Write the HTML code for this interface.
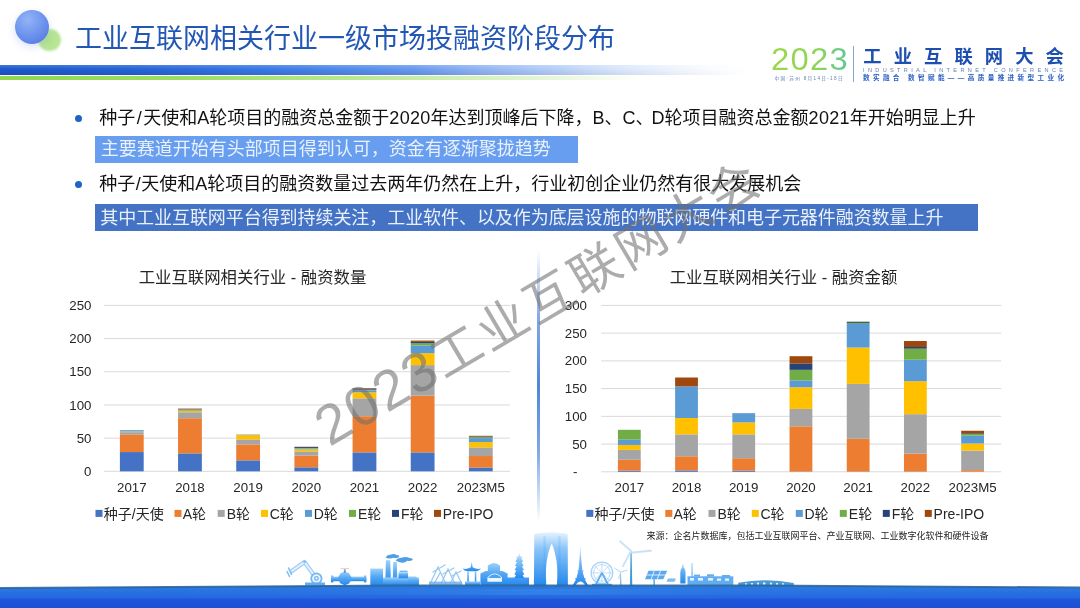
<!DOCTYPE html>
<html lang="zh-CN">
<head>
<meta charset="utf-8">
<title>工业互联网相关行业一级市场投融资阶段分布</title>
<style>
*{margin:0;padding:0;box-sizing:border-box}
html,body{width:1080px;height:608px;overflow:hidden;background:#fff}
body{position:relative;font-family:"Liberation Sans","Noto Sans CJK SC",sans-serif;color:#111}
.abs{position:absolute}
#title{left:75px;top:18.8px;font-size:27px;line-height:40px;color:#2257b6;white-space:nowrap}
#bar1{left:0;top:64.5px;width:750px;height:10.5px;background:linear-gradient(180deg,rgba(255,255,255,.18),rgba(255,255,255,0) 40%,rgba(0,0,40,.12)),linear-gradient(90deg,#1c58cc 0%,#2463d8 17%,#3a7ae6 36%,#6a9cf0 56%,#a6c4f6 76%,#dce8fc 93%,#eef4fe 100%);-webkit-mask-image:linear-gradient(90deg,#000 0%,#000 55%,rgba(0,0,0,.75) 75%,rgba(0,0,0,.3) 92%,transparent 100%);mask-image:linear-gradient(90deg,#000 0%,#000 55%,rgba(0,0,0,.75) 75%,rgba(0,0,0,.3) 92%,transparent 100%)}
#bar2{left:0;top:76.2px;width:640px;height:4.3px;background:linear-gradient(90deg,#8fd84f 0%,#9fdd66 30%,#b9e88f 55%,#dcf3c8 80%,rgba(255,255,255,0) 100%)}
.b{font-size:18px;line-height:26px;white-space:nowrap;color:#111}
.b i{font-style:normal;letter-spacing:.3px}
.b b{font-weight:normal;padding:0 .5px}
.hl{color:#e9f1fc;font-size:18px;line-height:26px;white-space:nowrap;padding-left:6px}
.dot{width:7px;height:7px;border-radius:50%;background:#1f62c8}
svg text{font-family:"Liberation Sans","Noto Sans CJK SC",sans-serif}
.ax{font-size:13.3px;fill:#262626}
.ct{font-size:16.4px;fill:#262626}
.lg{font-size:14px;fill:#262626}
#full{left:0;top:0}
</style>
</head>
<body>
<!-- header decoration -->
<div class="abs" style="left:38.4px;top:28.8px;width:22.4px;height:22.4px;border-radius:50%;background:radial-gradient(circle at 50% 50%,#b4e38c 0%,#b9e695 70%,#c6ecaa 100%);filter:blur(.8px)"></div>
<div class="abs" style="left:15px;top:10px;width:33.8px;height:33.8px;border-radius:50%;background:radial-gradient(circle at 38% 28%,#93b4f6 0%,#7196ee 45%,#5a7ee6 80%,#5576e0 100%);box-shadow:0 3px 9px rgba(120,150,230,.28);filter:blur(.4px)"></div>
<div id="title" class="abs">工业互联网相关行业一级市场投融资阶段分布</div>
<div id="bar1" class="abs"></div>
<div id="bar2" class="abs"></div>

<!-- logo -->
<div class="abs" id="logo" style="left:0;top:0;width:1080px;height:90px">
  <div class="abs" style="left:770.6px;top:40.6px;font-family:'Liberation Sans','Noto Sans CJK SC',sans-serif;font-weight:400;font-size:31.5px;line-height:36px;letter-spacing:1.2px;transform:scaleX(1.04);transform-origin:0 0;background:linear-gradient(90deg,#9bd84a,#8ed45a 60%,#5cc79a);-webkit-background-clip:text;background-clip:text;color:transparent">2023</div>
  <div class="abs" style="left:853px;top:46px;width:1px;height:36px;background:#8aa6cf"></div>
  <div class="abs" style="left:863.3px;top:45px;font-size:18.3px;line-height:24px;font-weight:bold;color:#1c4fb0;letter-spacing:12.1px;white-space:nowrap">工业互联网大会</div>
  <svg class="abs" style="left:0;top:0" width="1080" height="90" viewBox="0 0 1080 90">
    <text x="863" y="71.5" font-size="5.6" fill="#5f7fb5" textLength="200" lengthAdjust="spacing">INDUSTRIAL INTERNET CONFERENCE</text>
    <text x="863" y="80.3" font-size="6.6" font-weight="bold" fill="#2a5fc0" textLength="201" lengthAdjust="spacing">数实融合 数智赋能——高质量推进新型工业化</text>
    <text x="774.5" y="80" font-size="4.6" fill="#5f7fb5" textLength="68" lengthAdjust="spacing">中国·苏州 8月14日-18日</text>
  </svg>
</div>

<!-- bullets -->
<div class="abs dot" style="left:74.5px;top:115px"></div>
<div class="abs b" style="left:99.3px;top:105px">种子<b style="padding:0 1.5px">/</b>天使和A轮项目的融资总金额于<i>2020</i>年达到顶峰后下降，B、C<span style="margin-right:-2px">、</span>D轮项目融资总金额<i>2021</i>年开始明显上升</div>
<div class="abs hl" style="left:95.4px;top:136.4px;width:482.6px;height:26.6px;padding-left:5.4px;line-height:27.6px;background:#689ef0">主要赛道开始有头部项目得到认可，资金有逐渐聚拢趋势</div>
<div class="abs dot" style="left:74.5px;top:181px"></div>
<div class="abs b" style="left:99.3px;top:171px">种子<b>/</b>天使和A轮项目的融资数量过去两年仍然在上升，行业初创企业仍然有很大发展机会</div>
<div class="abs hl" style="left:95.4px;top:203.5px;width:882.6px;height:27px;padding-left:4.8px;line-height:28px;background:#4472c4;letter-spacing:-.06px">其中工业互联网平台得到持续关注，工业软件、以及作为底层设施的物联网硬件和电子元器件融资数量上升</div>

<!-- divider -->
<div class="abs" style="left:536.8px;top:250px;width:3px;height:272px;background:linear-gradient(180deg,rgba(90,140,220,0) 0%,rgba(90,140,220,.75) 25%,#4f86d8 50%,rgba(90,140,220,.75) 75%,rgba(90,140,220,0) 100%)"></div>

<svg id="full" class="abs" width="1080" height="608" viewBox="0 0 1080 608">
<g id="chartL">
<line x1="103.8" x2="509.9" y1="471.30" y2="471.30" stroke="#d9d9d9" stroke-width="1"/>
<text x="91.5" y="475.90" text-anchor="end" class="ax">0</text>
<line x1="103.8" x2="509.9" y1="438.12" y2="438.12" stroke="#d9d9d9" stroke-width="1"/>
<text x="91.5" y="442.72" text-anchor="end" class="ax">50</text>
<line x1="103.8" x2="509.9" y1="404.94" y2="404.94" stroke="#d9d9d9" stroke-width="1"/>
<text x="91.5" y="409.54" text-anchor="end" class="ax">100</text>
<line x1="103.8" x2="509.9" y1="371.76" y2="371.76" stroke="#d9d9d9" stroke-width="1"/>
<text x="91.5" y="376.36" text-anchor="end" class="ax">150</text>
<line x1="103.8" x2="509.9" y1="338.58" y2="338.58" stroke="#d9d9d9" stroke-width="1"/>
<text x="91.5" y="343.18" text-anchor="end" class="ax">200</text>
<line x1="103.8" x2="509.9" y1="305.40" y2="305.40" stroke="#d9d9d9" stroke-width="1"/>
<text x="91.5" y="310.00" text-anchor="end" class="ax">250</text>
<rect x="119.89" y="452.06" width="23.8" height="19.24" fill="#4472C4"/>
<rect x="119.89" y="434.80" width="23.8" height="17.25" fill="#ED7D31"/>
<rect x="119.89" y="432.15" width="23.8" height="2.65" fill="#A5A5A5"/>
<rect x="119.89" y="431.48" width="23.8" height="0.66" fill="#FFC000"/>
<rect x="119.89" y="430.16" width="23.8" height="1.33" fill="#5B9BD5"/>
<text x="131.79" y="491.9" text-anchor="middle" class="ax">2017</text>
<rect x="178.06" y="453.38" width="23.8" height="17.92" fill="#4472C4"/>
<rect x="178.06" y="418.21" width="23.8" height="35.17" fill="#ED7D31"/>
<rect x="178.06" y="412.24" width="23.8" height="5.97" fill="#A5A5A5"/>
<rect x="178.06" y="410.91" width="23.8" height="1.33" fill="#FFC000"/>
<rect x="178.06" y="410.25" width="23.8" height="0.66" fill="#5B9BD5"/>
<rect x="178.06" y="409.59" width="23.8" height="0.66" fill="#70AD47"/>
<rect x="178.06" y="409.25" width="23.8" height="0.33" fill="#264478"/>
<rect x="178.06" y="408.59" width="23.8" height="0.66" fill="#9E480E"/>
<text x="189.96" y="491.9" text-anchor="middle" class="ax">2018</text>
<rect x="236.23" y="460.35" width="23.8" height="10.95" fill="#4472C4"/>
<rect x="236.23" y="444.42" width="23.8" height="15.93" fill="#ED7D31"/>
<rect x="236.23" y="439.45" width="23.8" height="4.98" fill="#A5A5A5"/>
<rect x="236.23" y="435.13" width="23.8" height="4.31" fill="#FFC000"/>
<rect x="236.23" y="434.80" width="23.8" height="0.33" fill="#5B9BD5"/>
<rect x="236.23" y="434.60" width="23.8" height="0.20" fill="#9E480E"/>
<text x="248.13" y="491.9" text-anchor="middle" class="ax">2019</text>
<rect x="294.40" y="467.32" width="23.8" height="3.98" fill="#4472C4"/>
<rect x="294.40" y="455.71" width="23.8" height="11.61" fill="#ED7D31"/>
<rect x="294.40" y="451.39" width="23.8" height="4.31" fill="#A5A5A5"/>
<rect x="294.40" y="449.40" width="23.8" height="1.99" fill="#FFC000"/>
<rect x="294.40" y="448.74" width="23.8" height="0.66" fill="#5B9BD5"/>
<rect x="294.40" y="448.07" width="23.8" height="0.66" fill="#70AD47"/>
<rect x="294.40" y="447.08" width="23.8" height="1.00" fill="#264478"/>
<rect x="294.40" y="446.75" width="23.8" height="0.33" fill="#9E480E"/>
<text x="306.30" y="491.9" text-anchor="middle" class="ax">2020</text>
<rect x="352.57" y="452.39" width="23.8" height="18.91" fill="#4472C4"/>
<rect x="352.57" y="416.22" width="23.8" height="36.17" fill="#ED7D31"/>
<rect x="352.57" y="398.30" width="23.8" height="17.92" fill="#A5A5A5"/>
<rect x="352.57" y="392.33" width="23.8" height="5.97" fill="#FFC000"/>
<rect x="352.57" y="390.34" width="23.8" height="1.99" fill="#5B9BD5"/>
<rect x="352.57" y="389.68" width="23.8" height="0.66" fill="#70AD47"/>
<rect x="352.57" y="388.68" width="23.8" height="1.00" fill="#264478"/>
<rect x="352.57" y="388.02" width="23.8" height="0.66" fill="#9E480E"/>
<text x="364.47" y="491.9" text-anchor="middle" class="ax">2021</text>
<rect x="410.74" y="452.39" width="23.8" height="18.91" fill="#4472C4"/>
<rect x="410.74" y="395.65" width="23.8" height="56.74" fill="#ED7D31"/>
<rect x="410.74" y="365.12" width="23.8" height="30.53" fill="#A5A5A5"/>
<rect x="410.74" y="353.18" width="23.8" height="11.94" fill="#FFC000"/>
<rect x="410.74" y="345.55" width="23.8" height="7.63" fill="#5B9BD5"/>
<rect x="410.74" y="343.23" width="23.8" height="2.32" fill="#70AD47"/>
<rect x="410.74" y="341.90" width="23.8" height="1.33" fill="#264478"/>
<rect x="410.74" y="340.57" width="23.8" height="1.33" fill="#9E480E"/>
<text x="422.64" y="491.9" text-anchor="middle" class="ax">2022</text>
<rect x="468.91" y="467.52" width="23.8" height="3.78" fill="#4472C4"/>
<rect x="468.91" y="456.04" width="23.8" height="11.48" fill="#ED7D31"/>
<rect x="468.91" y="447.41" width="23.8" height="8.63" fill="#A5A5A5"/>
<rect x="468.91" y="442.10" width="23.8" height="5.31" fill="#FFC000"/>
<rect x="468.91" y="438.12" width="23.8" height="3.98" fill="#5B9BD5"/>
<rect x="468.91" y="437.12" width="23.8" height="1.00" fill="#70AD47"/>
<rect x="468.91" y="436.46" width="23.8" height="0.66" fill="#264478"/>
<rect x="468.91" y="435.80" width="23.8" height="0.66" fill="#9E480E"/>
<text x="480.81" y="491.9" text-anchor="middle" class="ax">2023M5</text>
<text x="252.5" y="283.1" text-anchor="middle" class="ct">工业互联网相关行业 - 融资数量</text>
<rect x="95.5" y="509.9" width="7" height="7" fill="#4472C4"/>
<text x="103.8" y="518.5" class="lg">种子/天使</text>
<rect x="174.5" y="509.9" width="7" height="7" fill="#ED7D31"/>
<text x="182.7" y="518.5" class="lg">A轮</text>
<rect x="217.7" y="509.9" width="7" height="7" fill="#A5A5A5"/>
<text x="226.7" y="518.5" class="lg">B轮</text>
<rect x="261.0" y="509.9" width="7" height="7" fill="#FFC000"/>
<text x="269.7" y="518.5" class="lg">C轮</text>
<rect x="305.0" y="509.9" width="7" height="7" fill="#5B9BD5"/>
<text x="313.7" y="518.5" class="lg">D轮</text>
<rect x="349.0" y="509.9" width="7" height="7" fill="#70AD47"/>
<text x="358.0" y="518.5" class="lg">E轮</text>
<rect x="392.0" y="509.9" width="7" height="7" fill="#264478"/>
<text x="401.0" y="518.5" class="lg">F轮</text>
<rect x="434.0" y="509.9" width="7" height="7" fill="#9E480E"/>
<text x="442.8" y="518.5" class="lg">Pre-IPO</text>
</g>
<g id="chartR">
<line x1="601.2" x2="1001.2" y1="471.80" y2="471.80" stroke="#d9d9d9" stroke-width="1"/>
<text x="577.5" y="476.40" text-anchor="end" class="ax">-</text>
<line x1="601.2" x2="1001.2" y1="444.07" y2="444.07" stroke="#d9d9d9" stroke-width="1"/>
<text x="587" y="448.67" text-anchor="end" class="ax">50</text>
<line x1="601.2" x2="1001.2" y1="416.33" y2="416.33" stroke="#d9d9d9" stroke-width="1"/>
<text x="587" y="420.93" text-anchor="end" class="ax">100</text>
<line x1="601.2" x2="1001.2" y1="388.60" y2="388.60" stroke="#d9d9d9" stroke-width="1"/>
<text x="587" y="393.20" text-anchor="end" class="ax">150</text>
<line x1="601.2" x2="1001.2" y1="360.87" y2="360.87" stroke="#d9d9d9" stroke-width="1"/>
<text x="587" y="365.47" text-anchor="end" class="ax">200</text>
<line x1="601.2" x2="1001.2" y1="333.13" y2="333.13" stroke="#d9d9d9" stroke-width="1"/>
<text x="587" y="337.73" text-anchor="end" class="ax">250</text>
<line x1="601.2" x2="1001.2" y1="305.40" y2="305.40" stroke="#d9d9d9" stroke-width="1"/>
<text x="587" y="310.00" text-anchor="end" class="ax">300</text>
<rect x="617.91" y="470.69" width="22.8" height="1.11" fill="#4472C4"/>
<rect x="617.91" y="459.71" width="22.8" height="10.98" fill="#ED7D31"/>
<rect x="617.91" y="449.89" width="22.8" height="9.82" fill="#A5A5A5"/>
<rect x="617.91" y="444.95" width="22.8" height="4.94" fill="#FFC000"/>
<rect x="617.91" y="439.63" width="22.8" height="5.32" fill="#5B9BD5"/>
<rect x="617.91" y="429.81" width="22.8" height="9.82" fill="#70AD47"/>
<text x="629.31" y="491.9" text-anchor="middle" class="ax">2017</text>
<rect x="675.12" y="470.41" width="22.8" height="1.39" fill="#4472C4"/>
<rect x="675.12" y="456.27" width="22.8" height="14.14" fill="#ED7D31"/>
<rect x="675.12" y="434.36" width="22.8" height="21.91" fill="#A5A5A5"/>
<rect x="675.12" y="418.00" width="22.8" height="16.36" fill="#FFC000"/>
<rect x="675.12" y="386.38" width="22.8" height="31.62" fill="#5B9BD5"/>
<rect x="675.12" y="377.51" width="22.8" height="8.87" fill="#9E480E"/>
<text x="686.52" y="491.9" text-anchor="middle" class="ax">2018</text>
<rect x="732.34" y="470.69" width="22.8" height="1.11" fill="#4472C4"/>
<rect x="732.34" y="458.21" width="22.8" height="12.48" fill="#ED7D31"/>
<rect x="732.34" y="434.36" width="22.8" height="23.85" fill="#A5A5A5"/>
<rect x="732.34" y="422.43" width="22.8" height="11.93" fill="#FFC000"/>
<rect x="732.34" y="413.17" width="22.8" height="9.26" fill="#5B9BD5"/>
<text x="743.74" y="491.9" text-anchor="middle" class="ax">2019</text>
<rect x="789.55" y="471.52" width="22.8" height="0.28" fill="#4472C4"/>
<rect x="789.55" y="426.32" width="22.8" height="45.21" fill="#ED7D31"/>
<rect x="789.55" y="408.90" width="22.8" height="17.42" fill="#A5A5A5"/>
<rect x="789.55" y="387.27" width="22.8" height="21.63" fill="#FFC000"/>
<rect x="789.55" y="380.45" width="22.8" height="6.82" fill="#5B9BD5"/>
<rect x="789.55" y="369.85" width="22.8" height="10.59" fill="#70AD47"/>
<rect x="789.55" y="363.42" width="22.8" height="6.43" fill="#264478"/>
<rect x="789.55" y="356.21" width="22.8" height="7.21" fill="#9E480E"/>
<text x="800.95" y="491.9" text-anchor="middle" class="ax">2020</text>
<rect x="846.76" y="471.52" width="22.8" height="0.28" fill="#4472C4"/>
<rect x="846.76" y="438.80" width="22.8" height="32.73" fill="#ED7D31"/>
<rect x="846.76" y="383.89" width="22.8" height="54.91" fill="#A5A5A5"/>
<rect x="846.76" y="347.55" width="22.8" height="36.33" fill="#FFC000"/>
<rect x="846.76" y="323.98" width="22.8" height="23.57" fill="#5B9BD5"/>
<rect x="846.76" y="322.87" width="22.8" height="1.11" fill="#70AD47"/>
<rect x="846.76" y="321.71" width="22.8" height="1.16" fill="#264478"/>
<text x="858.16" y="491.9" text-anchor="middle" class="ax">2021</text>
<rect x="903.98" y="471.52" width="22.8" height="0.28" fill="#4472C4"/>
<rect x="903.98" y="453.61" width="22.8" height="17.92" fill="#ED7D31"/>
<rect x="903.98" y="414.17" width="22.8" height="39.44" fill="#A5A5A5"/>
<rect x="903.98" y="381.22" width="22.8" height="32.95" fill="#FFC000"/>
<rect x="903.98" y="359.76" width="22.8" height="21.47" fill="#5B9BD5"/>
<rect x="903.98" y="348.66" width="22.8" height="11.09" fill="#70AD47"/>
<rect x="903.98" y="347.00" width="22.8" height="1.66" fill="#264478"/>
<rect x="903.98" y="341.01" width="22.8" height="5.99" fill="#9E480E"/>
<text x="915.38" y="491.9" text-anchor="middle" class="ax">2022</text>
<rect x="961.19" y="471.69" width="22.8" height="0.11" fill="#4472C4"/>
<rect x="961.19" y="470.14" width="22.8" height="1.55" fill="#ED7D31"/>
<rect x="961.19" y="450.56" width="22.8" height="19.58" fill="#A5A5A5"/>
<rect x="961.19" y="443.51" width="22.8" height="7.04" fill="#FFC000"/>
<rect x="961.19" y="435.75" width="22.8" height="7.77" fill="#5B9BD5"/>
<rect x="961.19" y="434.08" width="22.8" height="1.66" fill="#70AD47"/>
<rect x="961.19" y="433.25" width="22.8" height="0.83" fill="#264478"/>
<rect x="961.19" y="430.75" width="22.8" height="2.50" fill="#9E480E"/>
<text x="972.59" y="491.9" text-anchor="middle" class="ax">2023M5</text>
<text x="783.5" y="283.1" text-anchor="middle" class="ct">工业互联网相关行业 - 融资金额</text>
<rect x="586.3" y="509.9" width="7" height="7" fill="#4472C4"/>
<text x="594.6" y="518.5" class="lg">种子/天使</text>
<rect x="665.3" y="509.9" width="7" height="7" fill="#ED7D31"/>
<text x="673.5" y="518.5" class="lg">A轮</text>
<rect x="708.5" y="509.9" width="7" height="7" fill="#A5A5A5"/>
<text x="717.5" y="518.5" class="lg">B轮</text>
<rect x="751.8" y="509.9" width="7" height="7" fill="#FFC000"/>
<text x="760.5" y="518.5" class="lg">C轮</text>
<rect x="795.8" y="509.9" width="7" height="7" fill="#5B9BD5"/>
<text x="804.5" y="518.5" class="lg">D轮</text>
<rect x="839.8" y="509.9" width="7" height="7" fill="#70AD47"/>
<text x="848.8" y="518.5" class="lg">E轮</text>
<rect x="882.8" y="509.9" width="7" height="7" fill="#264478"/>
<text x="891.8" y="518.5" class="lg">F轮</text>
<rect x="924.8" y="509.9" width="7" height="7" fill="#9E480E"/>
<text x="933.6" y="518.5" class="lg">Pre-IPO</text>
</g>
<text x="646.5" y="538.9" font-size="9" fill="#222">来源：企名片数据库，包括工业互联网平台、产业互联网、工业数字化软件和硬件设备</text>
<defs>
<linearGradient id="sk" x1="0" y1="0" x2="0" y2="1"><stop offset="0" stop-color="#9dd0fa"/><stop offset=".45" stop-color="#56a9f3"/><stop offset="1" stop-color="#2388ee"/></linearGradient>
<linearGradient id="skTall" x1="0" y1="0" x2="0" y2="1"><stop offset="0" stop-color="#e6f3fe"/><stop offset=".3" stop-color="#8cc6f8"/><stop offset="1" stop-color="#2388ee"/></linearGradient>
<linearGradient id="skPale" x1="0" y1="0" x2="0" y2="1"><stop offset="0" stop-color="#d3e9fb"/><stop offset="1" stop-color="#7fbdf3"/></linearGradient>
<linearGradient id="band" x1="0" y1="0" x2="0" y2="1"><stop offset="0" stop-color="#2f7fd6"/><stop offset=".12" stop-color="#2b78e2"/><stop offset=".55" stop-color="#2468e0"/><stop offset=".62" stop-color="#1f55d8"/><stop offset="1" stop-color="#1d4ed6"/></linearGradient>
<linearGradient id="bandH" x1="0" y1="0" x2="1" y2="0"><stop offset="0" stop-color="#2a6ce0" stop-opacity="0"/><stop offset=".5" stop-color="#3a8cf0" stop-opacity=".55"/><stop offset="1" stop-color="#2a6ce0" stop-opacity="0"/></linearGradient>
</defs>
<g id="skyline">
<!-- robot arm -->
<g fill="none" stroke-linecap="round" stroke-linejoin="round">
<path d="M292 571 L304.500 562 L316 578" stroke="#9ccbf5" stroke-width="4.200"/>
<path d="M292 571 L304.500 562 L316 578" stroke="#e6f2fd" stroke-width="2"/>
<circle cx="316.400" cy="578.500" r="5.200" stroke="#6fb6f3" stroke-width="1.700" fill="#eaf4fd"/>
<circle cx="316.400" cy="578.500" r="1.800" stroke="#6fb6f3" stroke-width="1.300"/>
<path d="M288.500 568 L291.500 574.500 M287 571.500 L289.500 576.500" stroke="#7dbcf3" stroke-width="1.500"/>
<circle cx="304.500" cy="562" r="1.300" fill="#7dbcf3"/>
</g>
<rect x="305" y="582.500" width="20" height="3" fill="#62adf0"/>
<!-- valve -->
<g fill="url(#sk)">
<rect x="331.4" y="576.6" width="34.8" height="4.6"/>
<rect x="331" y="575.4" width="2.4" height="7"/><rect x="364" y="575.4" width="2.4" height="7"/>
<path d="M337.500 578.400 L340.500 573.200 L344.800 571.400 L349.100 573.200 L352.100 578.400 L349.100 583.600 L344.800 585.200 L340.500 583.600Z"/>
<rect x="343.9" y="568.6" width="1.8" height="4"/>
</g>
<rect x="340.6" y="568" width="8.4" height="1.2" fill="#f6cfc2"/>
<!-- factory left -->
<g fill="url(#sk)">
<rect x="370.3" y="568.6" width="12.7" height="17"/>
<path d="M385.2 585.6 L385.9 560.3 L390.2 560.3 L391.1 585.6Z"/>
<path d="M392.6 585.6 L393.3 562 L396.8 562 L397.6 585.6Z"/>
<rect x="383" y="577.5" width="36" height="8.1"/>
<rect x="398.5" y="572.3" width="9.5" height="6"/>
<rect x="399.5" y="570.5" width="8" height="1.2"/>
<path d="M408 576.5 L416 576.5 L419 580 L419 585.6 L408 585.6Z"/>
</g>
<g fill="#4d9fe8">
<path d="M385.6 557.4 q1.5-3 5-2.6 q3-1.6 6 .2 q3 .2 2.6 2 q-2.4 1.6-6 .8 q-3 1.8-7.600-.4z"/>
<path d="M395.600 560.5 q2-3 6-2.700 q4-1.800 8 .2 q3.500 .2 3 2 q-2 1.400-5.500 .8 q-1.500 2.200-5 2 q-3.500-.2-6.500-2.300z"/>
</g>
<!-- pump jacks (pale) -->
<g fill="none" stroke="#8fc3f0" stroke-width="1.3" stroke-linecap="round" opacity=".9">
<path d="M430 584 L438 567 L446 584 M433 572 L445 565 M434 584 L440 573"/>
<path d="M441 584 L448 569 L455 584 M443 574 L454 568"/>
<path d="M450 584 L456 572 L462 584 M452 576 L461 571"/>
</g>
<rect x="429" y="581.6" width="33" height="3.6" fill="#6fb2ee" opacity=".85"/>
<!-- pavilion -->
<g fill="url(#sk)">
<path d="M471.700 561.5 L472.600 567.300 Q477 569.800 481.300 568.600 Q478.500 571.200 476 571.200 L467.400 571.200 Q464.500 571.200 462.300 568.600 Q466.500 569.800 470.800 567.300Z"/>
<rect x="467.300" y="571" width="1.500" height="11"/><rect x="474.800" y="571" width="1.500" height="11"/>
<rect x="465" y="581.400" width="15" height="4.200"/>
</g>
<!-- hall -->
<path fill="url(#sk)" d="M480.400 585.600 L480.400 573.500 L485.500 571 L487.800 571 L487.800 565.500 Q494 560.500 500 565.500 L500 571 L502.500 571 L507.600 573.500 L507.600 577.600 L529 577.600 L529 585.600Z"/>
<path fill="#eef7fe" d="M487.400 581.800 L487.400 577.500 Q494.600 569.500 502 577.500 L502 581.800Z"/>
<path fill="#4ea3f0" d="M488.500 577.200 Q494.600 571.500 501 577.200 L501 578 L488.500 578Z"/>
<!-- pagoda -->
<path fill="url(#skTall)" d="M519.300 552.400 L520.100 556 L522.600 557.600 L521.400 558.200 L523.200 561.600 L521.700 562.200 L523.600 565.800 L522 566.400 L524 570 L522.300 570.600 L524.300 574.400 L522.600 575 L524.200 578 L514.400 578 L516 575 L514.300 574.400 L516.300 570.600 L514.600 570 L516.600 566.400 L515 565.800 L516.900 562.200 L515.400 561.600 L517.200 558.200 L516 557.600 L518.500 556Z"/>
<!-- gate tower -->
<path fill="url(#skTall)" d="M533.900 585.600 L534.300 534 Q551 530.500 567.700 534 L567.900 585.600 L556.900 585.600 Q558.300 566 555.300 555 Q553.500 546.500 551.700 543.800 Q549.600 547 547.800 555.500 Q545 567 546.300 585.600Z"/>
<path fill="#2a8cf0" opacity=".16" d="M545.700 585.600 L545.700 536 L543.500 536 L543.500 585.600Z M558.300 585.600 L558.300 536 L560.500 536 L560.500 585.600Z"/>
<!-- left small building next to gate -->

<!-- eiffel -->
<path fill="url(#skTall)" d="M580.400 544.200 L581 556 L582.300 570.500 L583.400 570.500 L583.400 571.600 L582.600 571.600 L584.400 578.300 L585.600 578.300 L585.600 579.500 L584.800 579.500 L588.300 585.600 L585.300 585.600 Q580.400 577.500 575.500 585.600 L572.500 585.600 L576 579.500 L575.200 579.500 L575.200 578.300 L576.400 578.300 L578.200 571.600 L577.400 571.600 L577.400 570.500 L578.500 570.500 L579.800 556Z"/>
<!-- ferris wheel -->
<g fill="none" stroke="#a9d3f7" stroke-width="1.300">
<circle cx="601.900" cy="572.900" r="10.800"/>
<circle cx="601.900" cy="572.900" r="8.300" stroke-width=".8"/>
<path d="M601.900 562 V584 M591 572.900 H612.800 M594.200 565.200 L609.600 580.600 M609.600 565.200 L594.200 580.600" stroke-width=".7"/>
</g>
<path d="M601.900 572.900 L595.500 585 M601.900 572.900 L608.300 585" stroke="#5aaaf0" stroke-width="1.700" fill="none"/>
<rect x="592" y="583.800" width="20" height="1.800" fill="#4a9fe8"/>
<!-- wind turbines -->
<path d="M630.600 552.500 L631.600 552.500 L632.300 585.600 L629.900 585.600Z" fill="#3f9bd8"/>
<g fill="#cfe5f8" stroke="#b5d6f3" stroke-width=".5">
<path d="M631.100 552.100 L619.300 541.500 L620.600 541 L632 550.800Z"/>
<path d="M631.100 552.100 L651.400 550 L651.400 551.300 L631.600 553.300Z"/>
<path d="M631.100 552.100 L623.200 567 L622.200 566.300 L630 551.600Z"/>
</g>
<path d="M620.400 572.500 L621 572.500 L621.500 585.600 L619.900 585.600Z" fill="#79b8ea"/>
<path d="M620.700 572.200 L614.500 568 M620.700 572.200 L627.500 570 M620.700 572.200 L618.500 579" stroke="#b5d6f3" stroke-width="1" fill="none"/>
<!-- solar -->
<path d="M648.500 570.800 L667.200 570.800 L663.200 579.200 L645 579.200Z" fill="#5aa8f0"/>
<path d="M654.200 570.800 L651.200 579.200 M660.500 570.800 L657.300 579.200 M646.800 575 L665.200 575" stroke="#e8f3fd" stroke-width=".9" fill="none"/>
<rect x="653.400" y="579.200" width="1.500" height="6.400" fill="#5aa8f0"/>
<path d="M668 578.600 L676 578.600 L674.500 581.800 L666.500 581.800Z" fill="#7dbbf2"/>
<!-- factory right -->
<g fill="url(#sk)">
<path d="M680.300 583.600 L680.300 572 Q680.500 568.500 682.200 567.500 L682.500 564.400 L683.300 564.400 L683.600 567.500 Q685.300 568.500 685.500 572 L685.500 583.600Z"/>
<rect x="691.400" y="563" width="1.400" height="20" opacity=".7"/>
<rect x="687.500" y="576.300" width="45.800" height="9" fill="#62adf1"/>
<rect x="694" y="574.600" width="6" height="2" fill="#62adf1"/><rect x="707" y="574.300" width="7" height="2.300" fill="#62adf1"/><rect x="722" y="575" width="8" height="2" fill="#62adf1"/>
</g>
<g fill="#e3f1fd"><rect x="690" y="578" width="4" height="2.600"/><rect x="698" y="578" width="5" height="2.600"/><rect x="708" y="578" width="5" height="2.600"/><rect x="717" y="578.500" width="4" height="2.300"/><rect x="725" y="578.500" width="4" height="2.300"/></g>
<!-- bridge -->
<path d="M738.200 586 L738.200 582.800 Q766 577.800 793.800 583 L793.800 586Z" fill="#4a9bd4"/>
<g fill="#dcecf8"><rect x="745" y="583.200" width="2" height="1.600"/><rect x="751" y="583" width="2" height="1.800"/><rect x="757" y="582.600" width="2" height="2.200"/><rect x="763" y="582.400" width="2.400" height="2.400"/><rect x="770" y="582.600" width="2" height="2.200"/><rect x="776" y="583" width="2" height="1.800"/><rect x="782" y="583.200" width="2" height="1.600"/></g>
<!-- water band -->
<path d="M0 588 Q200 586.300 400 585.500 L760 585.600 Q920 586.200 1080 587.500 L1080 608 L0 608Z" fill="url(#band)"/>
<path d="M0 588 Q200 586.300 400 585.500 L760 585.600 Q920 586.200 1080 587.500" fill="none" stroke="#2c6399" stroke-width="2" opacity=".85"/>
<rect x="140" y="589" width="800" height="6" fill="url(#bandH)"/>
</g>

<!-- watermark -->
<g transform="translate(329.5,447.3) rotate(-30.6)">
<text x="0" y="0" font-size="50" fill="#707070" fill-opacity=".58" style="font-family:'Liberation Sans','Noto Sans CJK SC',sans-serif"><tspan font-size="56" letter-spacing="2.2">2023</tspan><tspan letter-spacing="3.5">工业互联网大会</tspan></text>
</g>
</svg>
</body>
</html>
